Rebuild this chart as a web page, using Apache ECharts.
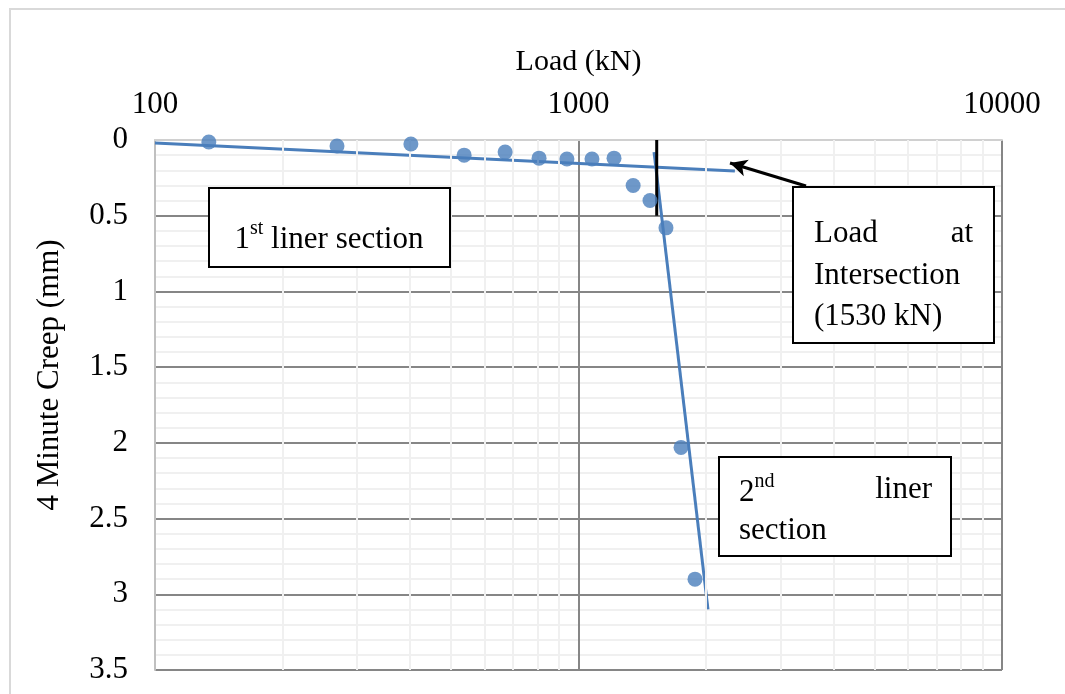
<!DOCTYPE html>
<html><head><meta charset="utf-8">
<script src="https://cdn.jsdelivr.net/npm/echarts@6/dist/echarts.min.js"></script>
<style>html,body{margin:0;padding:0;background:#fff}#c{width:1065px;height:694px}</style>
</head><body><div id="c"></div>
<script>
// Data
const loads = [134, 269, 402, 537, 671, 807, 939, 1076, 1213, 1346, 1475, 1609, 1746, 1884];
const creep = [0.013, 0.04, 0.026, 0.10, 0.08, 0.12, 0.125, 0.125, 0.12, 0.30, 0.40, 0.58, 2.03, 2.90];
const trend1 = [[100, 0.02], [2340, 0.205]];   // 1st liner section trend line ends
const trend2 = [[1508, 0.08], [2022, 3.10]];   // 2nd liner section trend line ends
const intersectionLoad = 1530;
const intersectionCreep = [0, 0.5];
const arrowFrom = [3445, 0.304];
const arrowTo = [2279, 0.152];
const xTickLabels = ['100', '1000', '10000'];
const xMinorTicks = [200, 300, 400, 500, 600, 700, 800, 900, 2000, 3000, 4000, 5000, 6000, 7000, 8000, 9000];
const yMin = 0, yMax = 3.5, yStep = 0.5;
const xTitle = 'Load (kN)';
const yTitle = '4 Minute Creep (mm)';

const FONT = 'Liberation Serif';
const FS = 31;
const BLUE = '#4A7EBB';

const chart = echarts.init(document.getElementById('c'), null, {renderer: 'canvas'});

function textEl(x, y, text, align, extra) {
  return Object.assign({
    type: 'text', z: 101, x: x, y: y,
    style: {text: text, font: FS + 'px "' + FONT + '"', fill: '#000', align: align || 'left', verticalAlign: 'middle'}
  }, extra || {});
}
function richEl(x, y, text, align) {
  return {
    type: 'text', z: 101, x: x, y: y,
    style: {
      text: text, align: align || 'left', verticalAlign: 'middle', fill: '#000',
      fontFamily: FONT, fontSize: FS,
      rich: {
        n: {fontFamily: FONT, fontSize: FS, lineHeight: 36, verticalAlign: 'bottom'},
        s: {fontFamily: FONT, fontSize: 20, lineHeight: 20, verticalAlign: 'top'}
      }
    }
  };
}
function boxEl(x, y, w, h) {
  return {type: 'rect', z: 100, shape: {x: x, y: y, width: w, height: h},
    style: {fill: '#fff', stroke: '#000', lineWidth: 2}};
}

const option = {
  backgroundColor: '#fff',
  animation: false,
  grid: {left: 155, right: 63, top: 140, bottom: 24, containLabel: false},
  xAxis: {
    type: 'log', logBase: 10, min: 100, max: 10000, position: 'top',
    name: xTitle, nameLocation: 'middle', nameGap: 63,
    nameTextStyle: {fontFamily: FONT, fontSize: 30, color: '#000'},
    axisLine: {show: true, lineStyle: {color: '#d0d0d0', width: 2}},
    axisTick: {show: false},
    axisLabel: {
      margin: 20, fontFamily: FONT, fontSize: FS, color: '#000',
      formatter: function (v) {
        const i = Math.round(Math.log10(v)) - 2;
        return xTickLabels[i] !== undefined ? xTickLabels[i] : '';
      }
    },
    splitLine: {show: true, showMinLine: false, lineStyle: {color: '#868686', width: 2}},
    minorTick: {show: false},
    minorSplitLine: {show: false}
  },
  yAxis: {
    type: 'value', inverse: true, min: yMin, max: yMax, interval: yStep,
    axisLine: {show: true, lineStyle: {color: '#c0c0c0', width: 2}},
    axisTick: {show: false},
    axisLabel: {margin: 27, fontFamily: FONT, fontSize: FS, color: '#000'},
    splitLine: {show: true, showMinLine: false, lineStyle: {color: '#868686', width: 2}},
    minorTick: {show: false, splitNumber: 5},
    minorSplitLine: {show: true, lineStyle: {color: '#f0f0f0', width: 2}}
  },
  series: [
    {
      type: 'line', data: [], z: 1, silent: true,
      markLine: {
        silent: true, symbol: ['none', 'none'], label: {show: false},
        lineStyle: {color: '#f0f0f0', width: 2, type: 'solid'},
        data: xMinorTicks.map(v => ({xAxis: v}))
      }
    },
    {
      type: 'line', data: trend1, symbol: 'none', z: 3,
      lineStyle: {color: BLUE, width: 3}
    },
    {
      type: 'line', data: trend2, symbol: 'none', z: 3,
      lineStyle: {color: BLUE, width: 3}
    },
    {
      type: 'line', data: intersectionCreep.map(c => [intersectionLoad, c]), symbol: 'none', z: 4,
      lineStyle: {color: '#000', width: 3}
    },
    {
      type: 'scatter', data: loads.map((l, i) => [l, creep[i]]), symbolSize: 15, z: 5,
      itemStyle: {color: BLUE}
    },
    {
      type: 'line', data: [], z: 6,
      markLine: {
        silent: true, symbol: ['none', 'arrow'], symbolSize: [13, 17], label: {show: false},
        lineStyle: {color: '#000', width: 3, type: 'solid'},
        data: [[{coord: arrowFrom}, {coord: arrowTo}]]
      }
    }
  ],
  graphic: [
    {type: 'rect', z: 0, silent: true, shape: {x: 10, y: 9, width: 1200, height: 800},
      style: {fill: 'none', stroke: '#d9d9d9', lineWidth: 2}},
    textEl(50, 375, yTitle, 'center', {rotation: Math.PI / 2}),
    boxEl(209, 188, 241, 79),
    richEl(329, 237, '{n|1}{s|st}{n| liner section}', 'center'),
    boxEl(793, 187, 201, 156),
    textEl(814, 234, 'Load', 'left'),
    textEl(973, 234, 'at', 'right'),
    textEl(814, 276, 'Intersection', 'left'),
    textEl(814, 317, '(1530 kN)', 'left'),
    boxEl(719, 457, 232, 99),
    richEl(739, 490, '{n|2}{s|nd}', 'left'),
    textEl(932, 490, 'liner', 'right'),
    textEl(739, 531, 'section', 'left')
  ]
};
chart.setOption(option);
</script></body></html>
